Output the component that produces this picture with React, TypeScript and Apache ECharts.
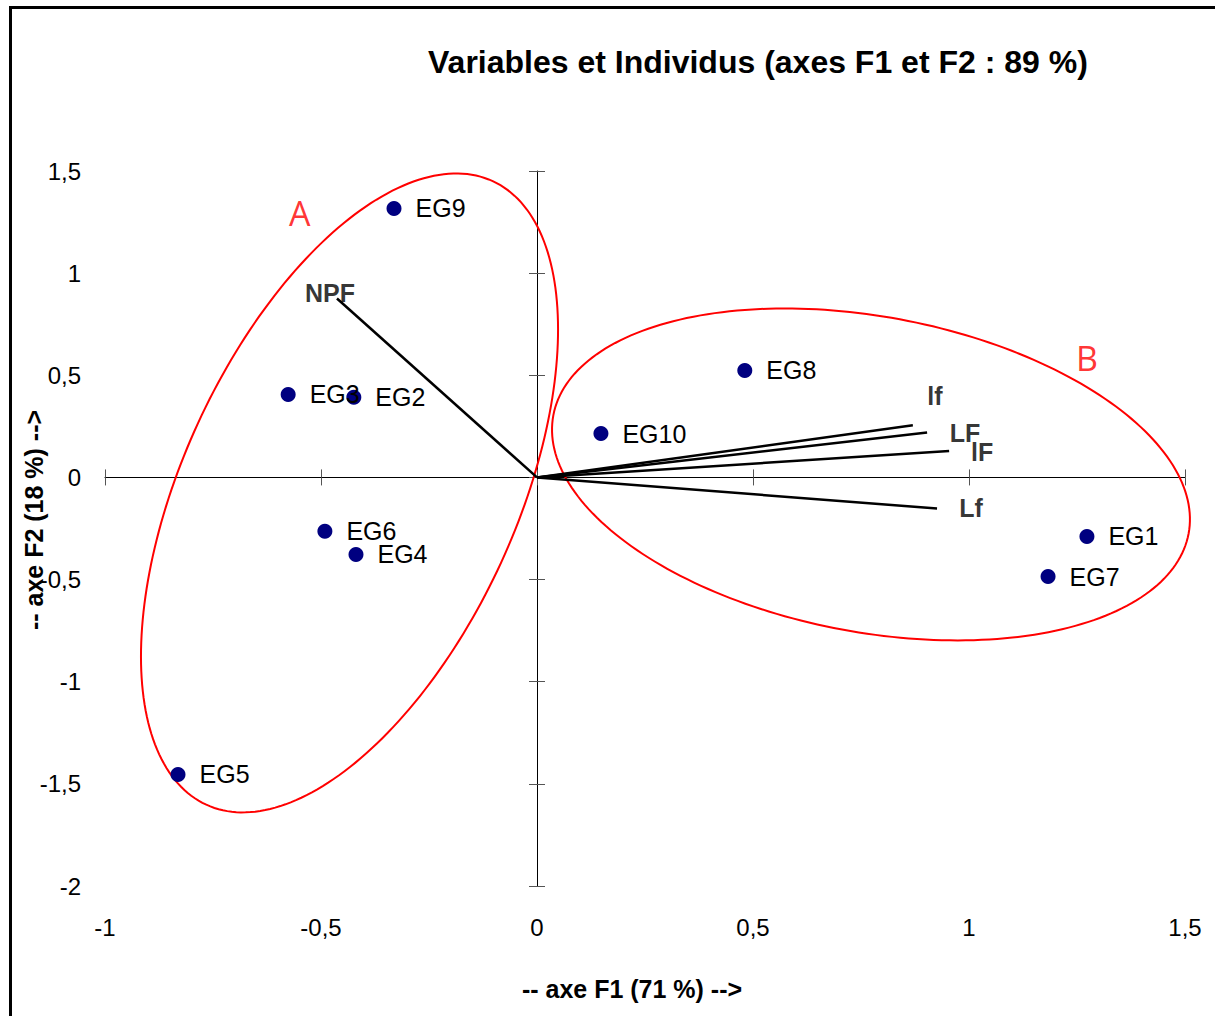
import React, { useEffect, useRef } from 'react';
import * as echarts from 'echarts';

// ---- data ----
const individuals = ['EG1', 'EG2', 'EG3', 'EG4', 'EG5', 'EG6', 'EG7', 'EG8', 'EG9', 'EG10'];
const indF1 = [1.273, -0.424, -0.576, -0.419, -0.831, -0.491, 1.183, 0.481, -0.331, 0.148];
const indF2 = [-0.289, 0.392, 0.406, -0.377, -1.454, -0.264, -0.485, 0.524, 1.317, 0.215];

const variables = ['NPF', 'lf', 'LF', 'lF', 'Lf'];
const varF1 = [-0.463, 0.87, 0.903, 0.954, 0.926];
const varF2 = [0.876, 0.255, 0.22, 0.129, -0.152];

const groups = ['A', 'B'];
const groupLabelF1 = [-0.549, 1.273];
const groupLabelF2 = [1.292, 0.587];
// ellipse centre + two conjugate semi-axis vectors (data units)
const ellipseCenterF1 = [-0.434, 0.7731];
const ellipseCenterF2 = [-0.0759, 0.0147];
const ellipseAxisU = [[0.3315, 1.5262], [0.7353, -0.2893]];
const ellipseAxisV = [[-0.3509, 0.3408], [0.0668, 0.7593]];

const xTickValues = [-1, -0.5, 0, 0.5, 1, 1.5];
const yTickValues = [-2, -1.5, -1, -0.5, 0, 0.5, 1, 1.5];

const titleText = 'Variables et Individus (axes F1 et F2 : 89 %)';
const xAxisTitle = '-- axe F1 (71 %) -->';
const yAxisTitle = '-- axe F2 (18 %) -->';

// label placement (style only)
const varLabelOffset = [[-7, -5], [22, -29], [38, 1], [33, 1], [34, 0]];

const FONT = '"Liberation Sans", Arial, sans-serif';
const fmt = (v: number) => String(v).replace('.', ',');

export default function App() {
  const ref = useRef<HTMLDivElement>(null);
  useEffect(() => {
    if (!ref.current) return;
    const chart = echarts.init(ref.current, undefined, { renderer: 'svg' });
    const xMin = xTickValues[0], xMax = xTickValues[xTickValues.length - 1];
    const yMin = yTickValues[0], yMax = yTickValues[yTickValues.length - 1];
    const xInt = xTickValues[1] - xTickValues[0];
    const yInt = yTickValues[1] - yTickValues[0];
    const tickStyle = { color: '#555', width: 1 };
    const baseX = { type: 'value', min: xMin, max: xMax, interval: xInt, splitLine: { show: false } };
    const baseY = { type: 'value', min: yMin, max: yMax, interval: yInt, splitLine: { show: false } };
    const option: any = {
      animation: false,
      textStyle: { fontFamily: FONT },
      title: {
        text: titleText,
        left: 423,
        top: 41,
        textStyle: { fontFamily: FONT, fontSize: 32, fontWeight: 'bold', color: '#000' },
      },
      grid: { left: 105, right: 30, top: 171, bottom: 130, containLabel: false, outerBoundsMode: 'none' },
      xAxis: [
        {
          ...baseX,
          position: 'bottom',
          axisLine: { show: false, onZero: false },
          axisTick: { show: false },
          axisLabel: { show: true, margin: 29, fontSize: 24, color: '#000', fontFamily: FONT, formatter: fmt },
          name: xAxisTitle,
          nameLocation: 'middle',
          nameGap: 90,
          nameMoveOverlap: false,
          nameTextStyle: { fontSize: 25, fontWeight: 'bold', color: '#000', fontFamily: FONT, padding: [0, 26, 0, 0] },
        },
        {
          ...baseX,
          position: 'bottom',
          axisLine: { show: true, onZero: true, onZeroAxisIndex: 0, lineStyle: { color: '#000', width: 1 } },
          axisTick: { show: true, inside: false, length: 8, lineStyle: tickStyle },
          axisLabel: { show: false },
        },
        {
          ...baseX,
          position: 'bottom',
          axisLine: { show: false, onZero: true, onZeroAxisIndex: 0 },
          axisTick: { show: true, inside: true, length: 8, lineStyle: tickStyle },
          axisLabel: { show: false },
        },
      ],
      yAxis: [
        {
          ...baseY,
          position: 'left',
          axisLine: { show: false, onZero: false },
          axisTick: { show: false },
          axisLabel: { show: true, margin: 24, fontSize: 24, color: '#000', fontFamily: FONT, formatter: fmt },
          name: yAxisTitle,
          nameLocation: 'middle',
          nameGap: 59,
          nameMoveOverlap: false,
          nameTextStyle: { fontSize: 25, fontWeight: 'bold', color: '#000', fontFamily: FONT, padding: [0, 0, 0, 17] },
        },
        {
          ...baseY,
          position: 'left',
          axisLine: { show: true, onZero: true, onZeroAxisIndex: 0, lineStyle: { color: '#000', width: 1 } },
          axisTick: { show: true, inside: false, length: 8, lineStyle: tickStyle },
          axisLabel: { show: false },
        },
        {
          ...baseY,
          position: 'left',
          axisLine: { show: false, onZero: true, onZeroAxisIndex: 0 },
          axisTick: { show: true, inside: true, length: 8, lineStyle: tickStyle },
          axisLabel: { show: false },
        },
      ],
      graphic: [
        {
          type: 'rect',
          shape: { x: 10.5, y: 7.5, width: 1240, height: 1040 },
          style: { fill: 'none', stroke: '#000', lineWidth: 3 },
          silent: true,
          z: 100,
        },
      ],
      series: [
        {
          type: 'custom',
          name: 'ellipses',
          xAxisIndex: 0,
          yAxisIndex: 0,
          clip: false,
          silent: true,
          z: 1,
          encode: { x: 0, y: 1 },
          data: groups.map((g, i) => [
            ellipseCenterF1[i], ellipseCenterF2[i],
            ellipseAxisU[i][0], ellipseAxisU[i][1],
            ellipseAxisV[i][0], ellipseAxisV[i][1],
          ]),
          renderItem: (params: any, api: any) => {
            const cx = api.value(0), cy = api.value(1);
            const ux = api.value(2), uy = api.value(3);
            const vx = api.value(4), vy = api.value(5);
            const pts: number[][] = [];
            const n = 240;
            for (let k = 0; k < n; k++) {
              const t = (k / n) * Math.PI * 2;
              const c = Math.cos(t), s = Math.sin(t);
              pts.push(api.coord([cx + ux * c + vx * s, cy + uy * c + vy * s]));
            }
            return {
              type: 'polygon',
              shape: { points: pts },
              style: { fill: 'none', stroke: '#ff0000', lineWidth: 2 },
            };
          },
        },
        {
          type: 'lines',
          name: 'variables',
          coordinateSystem: 'cartesian2d',
          xAxisIndex: 0,
          yAxisIndex: 0,
          silent: true,
          z: 3,
          lineStyle: { color: '#000', width: 2.5, opacity: 1 },
          data: variables.map((v, i) => ({ name: v, coords: [[0, 0], [varF1[i], varF2[i]]] })),
        },
        {
          type: 'scatter',
          name: 'variableLabels',
          xAxisIndex: 0,
          yAxisIndex: 0,
          symbolSize: 1,
          itemStyle: { color: 'transparent' },
          silent: true,
          z: 4,
          data: variables.map((v, i) => ({
            name: v,
            value: [varF1[i], varF2[i]],
            label: { offset: varLabelOffset[i] },
          })),
          label: {
            show: true,
            position: 'inside',
            formatter: (p: any) => p.name,
            fontSize: 25,
            fontWeight: 'bold',
            color: '#000',
            textBorderWidth: 0,
            fontFamily: FONT,
          },
        },
        {
          type: 'scatter',
          name: 'individus',
          xAxisIndex: 0,
          yAxisIndex: 0,
          symbol: 'circle',
          symbolSize: 15,
          itemStyle: { color: '#000080', opacity: 1 },
          z: 5,
          data: individuals.map((n, i) => ({ name: n, value: [indF1[i], indF2[i]] })),
          label: {
            show: true,
            position: 'right',
            distance: 14,
            formatter: (p: any) => p.name,
            fontSize: 25,
            color: '#000',
            fontFamily: FONT,
          },
        },
        {
          type: 'scatter',
          name: 'groupes',
          xAxisIndex: 0,
          yAxisIndex: 0,
          symbolSize: 1,
          itemStyle: { color: 'transparent' },
          silent: true,
          z: 4,
          data: groups.map((g, i) => ({ name: g, value: [groupLabelF1[i], groupLabelF2[i]] })),
          label: {
            show: true,
            position: 'inside',
            formatter: (p: any) => p.name,
            fontSize: 34,
            color: '#ff0000',
            textBorderWidth: 0,
            fontFamily: '"Open Sans", "Noto Sans", sans-serif',
          },
        },
      ],
    };
    chart.setOption(option);
    return () => chart.dispose();
  }, []);
  return (
    <div
      ref={ref}
      style={{ position: 'fixed', left: 0, top: 0, width: 1215, height: 1016, background: '#fff' }}
    />
  );
}
